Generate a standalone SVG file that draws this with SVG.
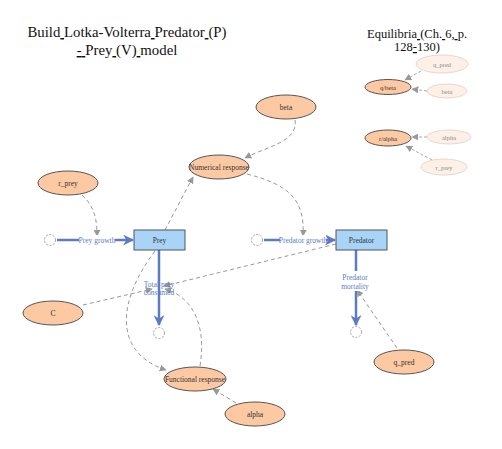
<svg xmlns="http://www.w3.org/2000/svg" width="502" height="449" viewBox="0 0 502 449">
<defs>
<style>
text{text-anchor:middle;dominant-baseline:central}
.title{font-size:14.8px;fill:#111;dominant-baseline:auto}
.u{text-decoration:underline}
.aux{fill:#fdc9a3;stroke:#555;stroke-width:1}
.auxl{fill:#fdf0e7;stroke:#e6d8cf;stroke-width:1}
.lbl{font-size:7.5px;fill:#333}
.lbll{font-size:7.5px;fill:#8a8a8a}
.stock{fill:#a8d4f7;stroke:#555;stroke-width:1}
.flow{stroke:#5b7bc4;stroke-width:2.5;fill:none}
.flbl{font-size:7.5px;fill:#5b7bc4}
.link{stroke:#999;stroke-width:1;stroke-dasharray:4 3;fill:none}
.linkl{stroke:#aaa;stroke-width:1;stroke-dasharray:3 2;fill:none}
.cloud{fill:#fff;stroke:#888;stroke-width:0.8;stroke-dasharray:2 1.5}
</style>
<marker id="ah" viewBox="0 0 10 10" refX="9" refY="5" markerWidth="7" markerHeight="7" orient="auto" markerUnits="userSpaceOnUse"><path d="M0,0 L10,5 L0,10 z" fill="#999"/></marker>
<marker id="fh" viewBox="0 0 10 10" refX="9" refY="5" markerWidth="11" markerHeight="11" orient="auto" markerUnits="userSpaceOnUse"><path d="M0,0 L10,5 L0,10 L3,5 z" fill="#5b7bc4"/></marker>
</defs>
<rect width="502" height="449" fill="#fff"/>

<g id="title" font-family="Liberation Serif, serif">
<text class="title" x="127" y="37" font-family="Liberation Serif, serif">Build<tspan class="u"> </tspan>Lotka-Volterra<tspan class="u"> </tspan>Predator<tspan class="u"> </tspan>(P)</text>
<text class="title" x="127" y="55" font-family="Liberation Serif, serif"><tspan class="u">-</tspan><tspan class="u"> </tspan>Prey<tspan class="u"> </tspan>(V)<tspan class="u"> </tspan>model</text>
</g>
<g id="equilibria-title" font-family="Liberation Serif, serif">
<text class="title" x="417" y="38" style="font-size:12.5px" font-family="Liberation Serif, serif">Equilibria<tspan class="u"> </tspan>(Ch.<tspan class="u"> </tspan>6,<tspan class="u"> </tspan>p.</text>
<text class="title" x="417" y="51" style="font-size:12.5px" font-family="Liberation Serif, serif">128<tspan class="u">-</tspan>130)</text>
</g>

<g id="connectors">
<line class="linkl" x1="421" y1="71" x2="405" y2="80" marker-end="url(#ah)"/>
<line class="linkl" x1="427" y1="91" x2="412" y2="89" marker-end="url(#ah)"/>
<line class="linkl" x1="427" y1="137" x2="412" y2="137" marker-end="url(#ah)"/>
<line class="linkl" x1="432" y1="160" x2="406" y2="146" marker-end="url(#ah)"/>
<line class="flow" x1="57" y1="240" x2="133" y2="240" marker-end="url(#fh)"/>
<line class="flow" x1="264" y1="240" x2="335" y2="240" marker-end="url(#fh)"/>
<line class="flow" x1="159" y1="250" x2="159" y2="325" marker-end="url(#fh)"/>
<line class="flow" x1="356" y1="250" x2="356" y2="325" marker-end="url(#fh)"/>
<path class="link" d="M82,195 C95,207 97,220 97,236" marker-end="url(#ah)"/>
<path class="link" d="M295,120 C298,142 268,146 245,158" marker-end="url(#ah)"/>
<path class="link" d="M247,174 C290,185 305,200 303,236" marker-end="url(#ah)"/>
<line class="link" x1="165" y1="230" x2="193" y2="177" marker-end="url(#ah)"/>
<path class="link" d="M155,251 C118,300 112,352 166,370" marker-end="url(#ah)"/>
<path class="link" d="M200,366 C206,330 196,298 165,289" marker-end="url(#ah)"/>
<line class="link" x1="83" y1="305" x2="152" y2="289" marker-end="url(#ah)"/>
<line class="link" x1="336" y1="244" x2="164" y2="286" marker-end="url(#ah)"/>
<line class="link" x1="397" y1="348" x2="357" y2="290" marker-end="url(#ah)"/>
<line class="link" x1="236" y1="403" x2="213" y2="389" marker-end="url(#ah)"/>
</g>

<g id="cloud-prey-in"><circle class="cloud" cx="50" cy="240" r="5.5"/></g>
<g id="cloud-pred-in"><circle class="cloud" cx="257" cy="240" r="5.5"/></g>
<g id="cloud-prey-out"><circle class="cloud" cx="159" cy="333" r="5.5"/></g>
<g id="cloud-pred-out"><circle class="cloud" cx="356" cy="332" r="5.5"/></g>

<g id="prey-growth" font-family="Liberation Serif, serif"><rect x="79" y="235" width="36" height="9" fill="#fff"/><text class="flbl" x="97" y="240" font-family="Liberation Serif, serif">Prey growth</text></g>
<g id="predator-growth" font-family="Liberation Serif, serif"><rect x="280" y="235" width="46" height="9" fill="#fff"/><text class="flbl" x="303" y="240" font-family="Liberation Serif, serif">Predator growth</text></g>
<g id="total-prey-consumed" font-family="Liberation Serif, serif"><text class="flbl" x="159" y="284" font-family="Liberation Serif, serif">Total prey</text><text class="flbl" x="159" y="292" font-family="Liberation Serif, serif">consumed</text></g>
<g id="predator-mortality" font-family="Liberation Serif, serif"><rect x="341" y="271" width="30" height="20" fill="#fff"/><text class="flbl" x="355" y="277" font-family="Liberation Serif, serif">Predator</text><text class="flbl" x="355" y="286" font-family="Liberation Serif, serif">mortality</text></g>

<g id="prey" font-family="Liberation Serif, serif"><rect class="stock" x="134" y="230" width="51" height="20"/><text class="lbl" x="159.5" y="240" font-family="Liberation Serif, serif">Prey</text></g>
<g id="predator" font-family="Liberation Serif, serif"><rect class="stock" x="336" y="230" width="51" height="20"/><text class="lbl" x="361.5" y="240" font-family="Liberation Serif, serif">Predator</text></g>

<g id="r_prey" font-family="Liberation Serif, serif"><ellipse class="aux" cx="68" cy="183" rx="30" ry="12"/><text class="lbl" x="68" y="183" font-family="Liberation Serif, serif">r_prey</text></g>
<g id="beta" font-family="Liberation Serif, serif"><ellipse class="aux" cx="286" cy="107" rx="30" ry="12"/><text class="lbl" x="286" y="107" font-family="Liberation Serif, serif">beta</text></g>
<g id="numerical-response" font-family="Liberation Serif, serif"><ellipse class="aux" cx="219" cy="167" rx="30" ry="12"/><text class="lbl" x="219" y="167" font-family="Liberation Serif, serif">Numerical response</text></g>
<g id="C" font-family="Liberation Serif, serif"><ellipse class="aux" cx="53" cy="313" rx="30" ry="12"/><text class="lbl" x="53" y="313" font-family="Liberation Serif, serif">C</text></g>
<g id="functional-response" font-family="Liberation Serif, serif"><ellipse class="aux" cx="195" cy="379" rx="31" ry="12"/><text class="lbl" x="195" y="379" font-family="Liberation Serif, serif">Functional response</text></g>
<g id="alpha" font-family="Liberation Serif, serif"><ellipse class="aux" cx="255" cy="414" rx="30" ry="12"/><text class="lbl" x="255" y="414" font-family="Liberation Serif, serif">alpha</text></g>
<g id="q_pred" font-family="Liberation Serif, serif"><ellipse class="aux" cx="404" cy="362" rx="30" ry="12"/><text class="lbl" x="404" y="362" font-family="Liberation Serif, serif">q_pred</text></g>

<g id="q-beta" font-family="Liberation Serif, serif"><ellipse class="aux" cx="388" cy="87" rx="23" ry="7.5"/><text class="lbl" x="388" y="87" style="font-size:6.5px" font-family="Liberation Serif, serif">q/beta</text></g>
<g id="r-alpha" font-family="Liberation Serif, serif"><ellipse class="aux" cx="388" cy="138" rx="23" ry="8"/><text class="lbl" x="388" y="138" style="font-size:6.5px" font-family="Liberation Serif, serif">r/alpha</text></g>
<g id="q_pred-ghost" font-family="Liberation Serif, serif"><ellipse class="auxl" cx="442" cy="64" rx="26" ry="9"/><text class="lbll" x="442" y="64" style="font-size:6.5px" font-family="Liberation Serif, serif">q_pred</text></g>
<g id="beta-ghost" font-family="Liberation Serif, serif"><ellipse class="auxl" cx="447" cy="91" rx="20" ry="7"/><text class="lbll" x="447" y="91" style="font-size:6.5px" font-family="Liberation Serif, serif">beta</text></g>
<g id="alpha-ghost" font-family="Liberation Serif, serif"><ellipse class="auxl" cx="449" cy="137" rx="22" ry="7"/><text class="lbll" x="449" y="137" style="font-size:6.5px" font-family="Liberation Serif, serif">alpha</text></g>
<g id="r_prey-ghost" font-family="Liberation Serif, serif"><ellipse class="auxl" cx="444" cy="167" rx="23" ry="8"/><text class="lbll" x="444" y="167" style="font-size:6.5px" font-family="Liberation Serif, serif">r_prey</text></g>
</svg>
